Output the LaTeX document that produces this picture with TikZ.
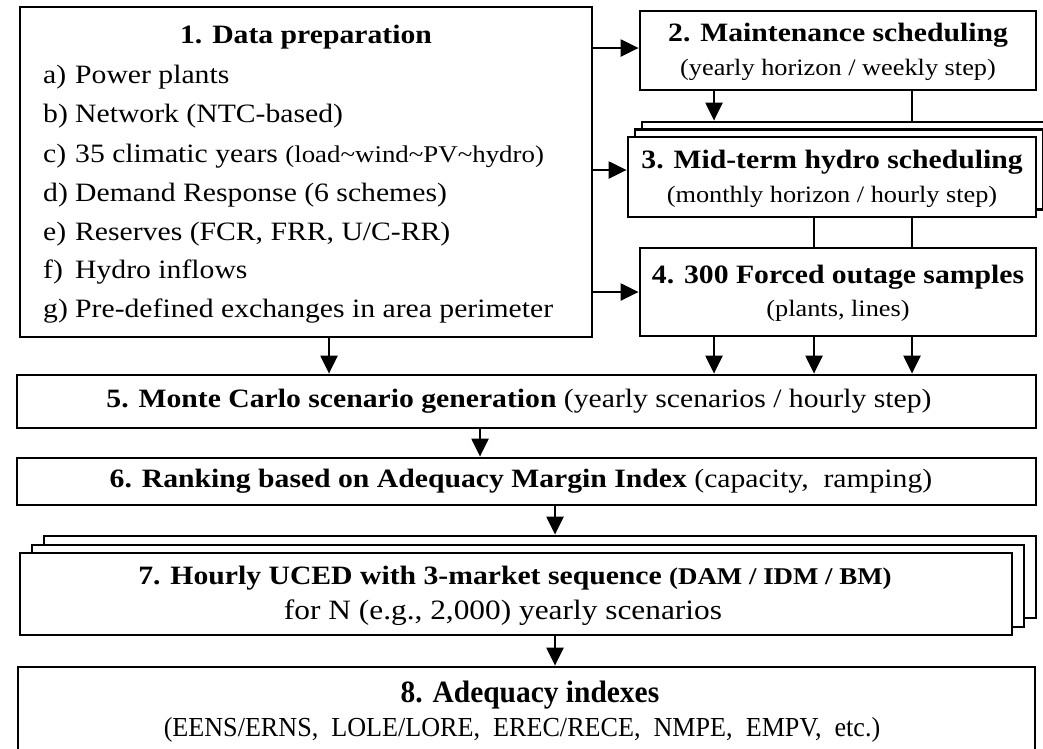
\documentclass[tikz,border=0pt]{standalone}
\usepackage{fontspec}
\setmainfont[FakeStretch=1.12]{Liberation Serif}
\newfontfamily\narrowfont[FakeStretch=0.95]{Liberation Serif}
\usetikzlibrary{arrows.meta}

\begin{document}
\begin{tikzpicture}[x=1pt,y=-1pt,
  box/.style={draw, line width=2.8pt, fill=white, inner sep=0pt, shape=rectangle},
  arr/.style={line width=2.3pt, -{Triangle[length=18pt,width=17pt]}},
  ln/.style={line width=2.3pt},
  txt/.style={inner sep=0pt, font=\fontsize{26.5}{30}\selectfont},
  sub/.style={inner sep=0pt, font=\fontsize{23.5}{27}\selectfont},
  item/.style={inner sep=0pt, anchor=west, font=\fontsize{26.5}{30}\selectfont},
]
\useasboundingbox (0,0) rectangle (1043,748);
\clip (0,0) rectangle (1043,748);

% 1. Data preparation
\node[box, minimum width=572pt, minimum height=330pt] (b1) at (306,172) {};
\node[txt] (t1) at (306,37) {\bfseries 1. Data preparation};
\node[item] (i1) at (43,77)  {\makebox[32pt][l]{a)}Power plants};
\node[item] (i2) at (43,116) {\makebox[32pt][l]{b)}Network (NTC-based)};
\node[item] (i3) at (43,156) {\makebox[32pt][l]{c)}35 climatic years {\fontsize{24}{28}\selectfont (load\textasciitilde wind\textasciitilde PV\textasciitilde hydro)}};
\node[item] (i4) at (43,195) {\makebox[32pt][l]{d)}Demand Response (6 schemes)};
\node[item] (i5) at (43,234) {\makebox[32pt][l]{e)}Reserves (FCR, FRR, U/C-RR)};
\node[item] (i6) at (43,272) {\makebox[32pt][l]{f)}Hydro inflows};
\node[item] (i7) at (43,311) {\makebox[32pt][l]{g)}Pre-defined exchanges in area perimeter};

% 2. Maintenance scheduling
\node[box, minimum width=396pt, minimum height=79pt] (b2) at (838,50.5) {};
\node[txt] (t2) at (838,35) {\bfseries 2. Maintenance scheduling};
\node[sub] (s2) at (838,70) {(yearly horizon / weekly step)};

% 3. Mid-term hydro scheduling (stacked)
\node[box, minimum width=408pt, minimum height=80pt] (b3c) at (846,162) {};
\node[box, minimum width=408pt, minimum height=80pt] (b3b) at (839,169.5) {};
\node[box, minimum width=408pt, minimum height=80pt] (b3) at (832,177) {};
\node[txt] (t3) at (832,162) {\bfseries 3. Mid-term hydro scheduling};
\node[sub] (s3) at (832,197) {(monthly horizon / hourly step)};

% 4. Forced outage samples
\node[box, minimum width=396pt, minimum height=88pt] (b4) at (838,292) {};
\node[txt] (t4) at (838,277) {\bfseries 4. 300 Forced outage samples};
\node[sub] (s4) at (838,311) {(plants, lines)};

% 5. Monte Carlo
\node[box, minimum width=1019pt, minimum height=53pt] (b5) at (526.5,401.5) {};
\node[txt] (t5) at (519,401) {\bfseries 5. Monte Carlo scenario generation \mdseries(yearly scenarios / hourly step)};

% 6. Ranking
\node[box, minimum width=1019pt, minimum height=47pt] (b6) at (526.5,481.5) {};
\node[txt] (t6) at (521,481) {\bfseries 6. Ranking based on Adequacy Margin Index \mdseries(capacity,\ \ ramping)};

% 7. Hourly UCED (stacked)
\node[box, minimum width=992pt, minimum height=82pt] (b7c) at (540,577) {};
\node[box, minimum width=992pt, minimum height=82pt] (b7b) at (528,586) {};
\node[box, minimum width=992pt, minimum height=82pt] (b7) at (516,594) {};
\node[txt] (t7) at (515,578) {\bfseries 7. Hourly UCED with 3-market sequence {\fontsize{24}{28}\selectfont(DAM / IDM / BM)}};
\node[txt, font=\fontsize{28}{32}\selectfont] (s7) at (503,613) {for N (e.g., 2,000) yearly scenarios};

% 8. Adequacy indexes
\node[box, minimum width=1017pt, minimum height=123pt] (b8) at (526.5,728.5) {};
\node[inner sep=0pt] (t8) at (530,695) {\narrowfont\fontsize{31}{34}\selectfont\bfseries 8. Adequacy indexes};
\node[inner sep=0pt] (s8) at (522,730) {\narrowfont\fontsize{27.5}{31}\selectfont (EENS/ERNS,\ \ LOLE/LORE,\ \ EREC/RECE,\ \ NMPE,\ \ EMPV,\ \ etc.)};

% connectors
\draw[arr] (b1.east |- 0,48) -- (b2.west |- 0,48);
\draw[arr] (b1.east |- 0,170) -- (b3.west |- 0,170);
\draw[arr] (b1.east |- b4.west) -- (b4.west);
\draw[arr] (b2.south -| 714,0) -- (b3c.north -| 714,0);
\draw[ln]  (b2.south -| 912,0) -- (b3c.north -| 912,0);
\draw[ln]  (b3.south -| 814,0) -- (b4.north -| 814,0);
\draw[ln]  (b3.south -| 912,0) -- (b4.north -| 912,0);
\draw[arr] (b4.south -| 714,0) -- (b5.north -| 714,0);
\draw[arr] (b4.south -| 814,0) -- (b5.north -| 814,0);
\draw[arr] (b4.south -| 912,0) -- (b5.north -| 912,0);
\draw[arr] (b1.south -| 329,0) -- (b5.north -| 329,0);
\draw[arr] (b5.south -| 480,0) -- (b6.north -| 480,0);
\draw[arr] (b6.south -| 555,0) -- (b7c.north -| 555,0);
\draw[arr] (b7.south -| 555,0) -- (b8.north -| 555,0);
\end{tikzpicture}
\end{document}
